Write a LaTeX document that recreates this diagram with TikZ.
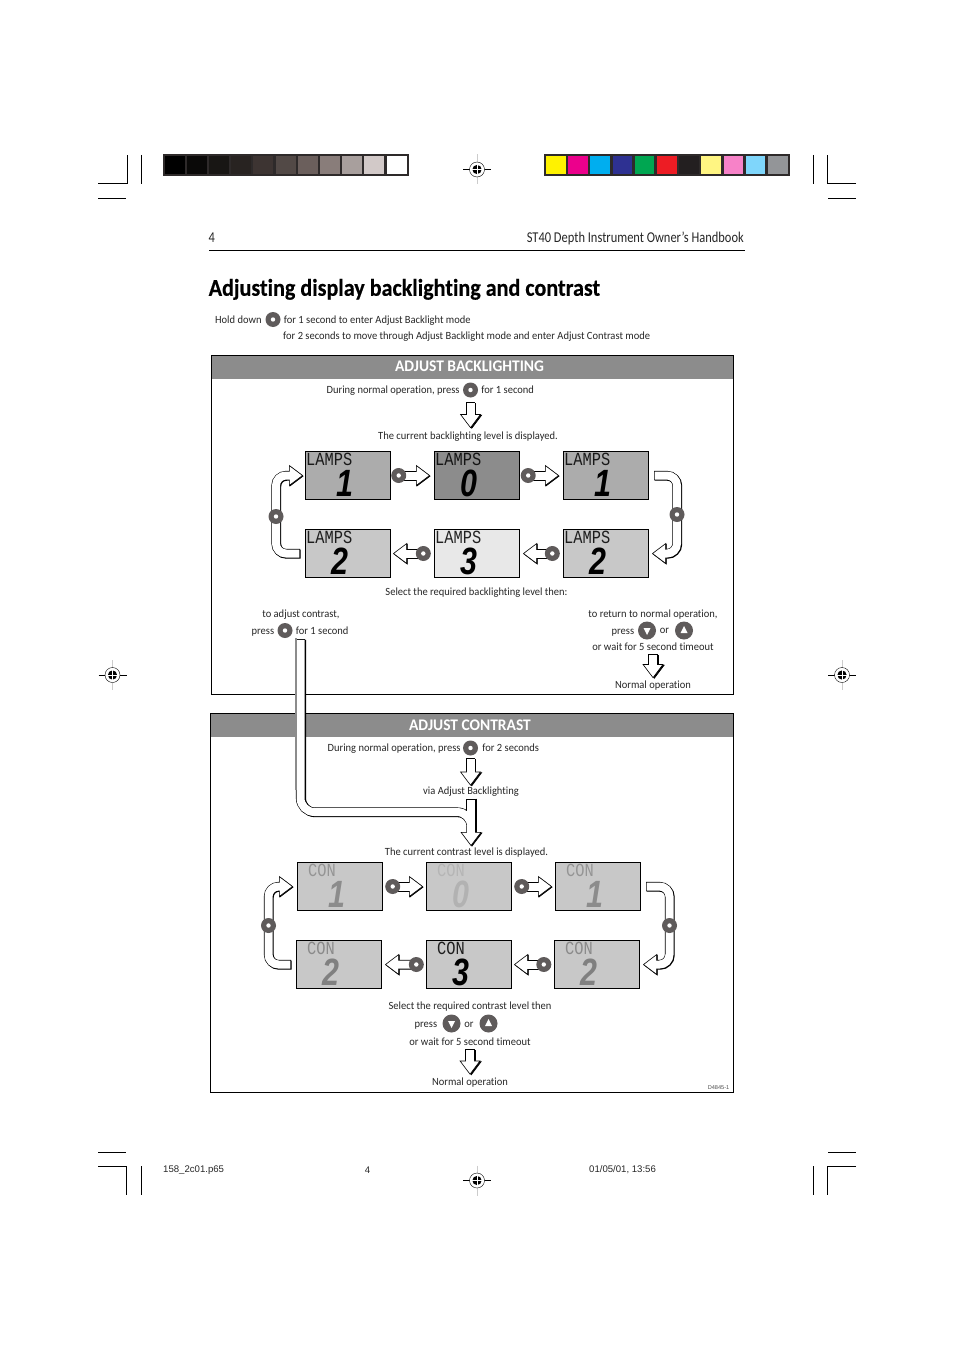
\documentclass[tikz,border=0pt]{standalone}
\usepackage{fontspec}
\setmainfont{Carlito}[FakeStretch=.955, Ligatures=NoCommon]
\newfontfamily\headfont{Carlito}[FakeStretch=.92, FakeBold=.4, Ligatures=NoCommon]
\newfontfamily\runfont{Carlito}[FakeStretch=.83, Ligatures=NoCommon]
\newfontfamily\tagfont{Liberation Mono}[FakeStretch=.83]
\newfontfamily\numfont{Liberation Sans}[FakeStretch=.8]
\newfontfamily\printfont{Liberation Sans}
\usetikzlibrary{arrows.meta, positioning, backgrounds, calc}
\definecolor{barink}{HTML}{2E2A2A}
\definecolor{bandgray}{HTML}{8C8C8C}
\definecolor{btngray}{HTML}{5F5B5B}
\definecolor{lcddark}{HTML}{8C8C8C}
\definecolor{lcdmid}{HTML}{ACACAC}
\definecolor{lcdsoft}{HTML}{C8C8C8}
\definecolor{lcdpale}{HTML}{E8E8E8}

\newcommand{\lcdface}[6]{%
  \node[lcdtag, text=#6, anchor=north west] (#1tag) at ([shift={(#3,-2pt)}]#1.north west) {#2};
  \node[lcdnum, text=#6] (#1num) at ([shift={(#5,-7.5pt)}]#1.center) {#4};
}

\begin{document}
\begin{tikzpicture}[
  x=1pt, y=-1pt,
  txt/.style = { inner sep=0pt, text height=9.4pt, text depth=1.9pt, font=\fontsize{11}{13}\selectfont, text=black!85 },
  band/.style = { inner sep=0pt, font=\fontsize{16.2}{18}\selectfont\bfseries, text=white },
  panel/.style = { draw=black, line width=.8pt },
  lcd/.style = { draw=black, line width=.8pt, minimum width=85.2pt, minimum height=48.2pt, inner sep=0pt },
  lcdtag/.style = { inner sep=0pt, text opacity=.85, font=\tagfont\fontsize{18.5}{19}\selectfont },
  lcdnum/.style = { inner sep=0pt, font=\numfont\bfseries\itshape\fontsize{38}{38}\selectfont },
  btn/.style = { circle, fill=btngray, minimum size=15pt, inner sep=0pt,
    path picture={\fill[white] (path picture bounding box.center) circle (2.2pt);} },
  btndown/.style = { circle, fill=btngray, minimum size=18pt, inner sep=0pt,
    path picture={\fill[white] ([shift={(-3.5pt,2.5pt)}]path picture bounding box.center) -- ++(7pt,0pt) -- ++(-3.5pt,-7pt) -- cycle;} },
  btnup/.style = { circle, fill=btngray, minimum size=18pt, inner sep=0pt,
    path picture={\fill[white] ([shift={(-3.5pt,-2.5pt)}]path picture bounding box.center) -- ++(7pt,0pt) -- ++(-3.5pt,7pt) -- cycle;} },
  hollow/.style = {
    preaction={draw=black, line width=9.2pt, shorten >=0pt, shorten <=0pt, transform canvas={shift={(#1,-.6pt)}},
      -{Triangle[length=14pt, width=21pt, line width=.6pt, fill=black]}},
    preaction={draw=black, line width=9.2pt, shorten >=0pt, shorten <=0pt,
      -{Triangle[length=14pt, width=21pt, line width=.6pt, color=black, fill=white]}},
    draw=white, line width=8pt, shorten >=12.8pt, shorten <=.7pt
  },
  hollow/.default=.6pt,
  regmark/.pic = {
    \draw[black!20, line width=1pt] (0,-15) -- (0,15);
    \draw[black, line width=.6pt] (-14,0) -- (14,0);
    \draw[black, line width=.4pt, fill=white] (0,0) circle (7.5pt);
    \fill[black] (0,0) circle (4.6pt);
    \draw[white, line width=.8pt] (-5,0) -- (5,0) (0,-5) -- (0,5);
  }
]
\useasboundingbox (0,0) rectangle (954,1351);

% crop marks
\draw[line width=.8pt] (98,183.5) -| (127,155) (98,198) -- (126,198) (141.5,155) -- (141.5,184);
\draw[line width=.8pt] (856,183.5) -| (827.5,155) (828,198) -- (856,198) (813.5,155) -- (813.5,184);
\draw[line width=.8pt] (98,1152) -- (126,1152) (98,1166) -| (126.5,1195) (141.5,1166) -- (141.5,1195);
\draw[line width=.8pt] (828,1152) -- (856,1152) (856,1166) -| (827.5,1195) (813.5,1166) -- (813.5,1195);

\pic at (477,169.5) {regmark};
\pic at (477,1180.5) {regmark};
\pic at (112.5,675) {regmark};
\pic at (842,675) {regmark};

% colour bars
\fill[barink] (163,154) rectangle (409,176);
\foreach \shade [count=\i from 0] in {000000,0A0908,181614,282321,3D3432,524946,6B5F5C,897D7A,A89F9D,D2C9C8,FFFFFF} {
  \definecolor{swatch}{HTML}{\shade}
  \fill[swatch] (164.5+22.2*\i,156) rectangle (184.5+22.2*\i,174.5);
}
\fill[barink] (544,154) rectangle (790,176);
\foreach \shade [count=\i from 0] in {FFF200,EC008C,00AEEF,2E3192,00A651,ED1C24,231F20,FFF582,F782C8,7FD6FB,939598} {
  \definecolor{swatch}{HTML}{\shade}
  \fill[swatch] (546+22.2*\i,156) rectangle (565.5+22.2*\i,174.5);
}

% page head
\node[txt, font=\runfont\fontsize{15}{17}\selectfont, anchor=west] (pagenum) at (208.5,238.5) {4};
\node[txt, font=\runfont\fontsize{15}{17}\selectfont, anchor=east] (booktitle) at (744,238.5) {ST40 Depth Instrument Owner’s Handbook};
\draw[line width=.7pt] (209,250) -- (745,250);
\node[txt, font=\headfont\fontsize{24}{26}\selectfont\bfseries, text=black, anchor=west] (heading) at (208.5,292) {Adjusting display backlighting and contrast};

\node[btn] (btnHold) at (273,319.5) {};
\node[txt, left=3.5pt of btnHold] (holdText) {Hold down};
\node[txt, right=3pt of btnHold] (holdOne) {for 1 second to enter Adjust Backlight mode};
\node[txt, anchor=west] (holdTwo) at (283,335.5) {for 2 seconds to move through Adjust Backlight mode and enter  Adjust Contrast mode};

% backlighting panel
\fill[bandgray] (212,356) rectangle (733,379);
\draw[panel] (211.5,355.5) rectangle (733.5,694.5);
\node[band] (bandA) at (469.5,366.5) {ADJUST BACKLIGHTING};

\node[btn] (btnA) at (470.5,390) {};
\node[txt, left=3pt of btnA] (duringA) {During normal operation, press};
\node[txt, right=3pt of btnA] (secA) {for 1 second};
\node[txt] (currentA) at (468,436) {The current backlighting level is displayed.};

\node[lcd, fill=lcdmid] (lampsA) at (348,475.5) {};
\node[lcd, fill=lcddark, right=43pt of lampsA] (lampsB) {};
\node[lcd, fill=lcdmid, right=43pt of lampsB] (lampsC) {};
\node[lcd, fill=lcdsoft, below=29pt of lampsA] (lampsD) {};
\node[lcd, fill=lcdpale, below=29pt of lampsB] (lampsE) {};
\node[lcd, fill=lcdsoft, below=29pt of lampsC] (lampsF) {};
\lcdface{lampsA}{LAMPS}{1pt}{1}{-3pt}{black}
\lcdface{lampsB}{LAMPS}{1pt}{0}{-8pt}{black}
\lcdface{lampsC}{LAMPS}{1pt}{1}{-3pt}{black}
\lcdface{lampsD}{LAMPS}{1pt}{2}{-8pt}{black}
\lcdface{lampsE}{LAMPS}{1pt}{3}{-8pt}{black}
\lcdface{lampsF}{LAMPS}{1pt}{2}{-8pt}{black}

\node[btn, right=0pt of lampsA] (btnAB) {};
\node[btn, right=.5pt of lampsB] (btnBC) {};
\node[btn, left=3pt of lampsF] (btnFE) {};
\node[btn, left=3pt of lampsE] (btnED) {};
\node[btn] (btnDA) at (276,516.5) {};
\node[btn] (btnCF) at (677,514.5) {};

\node[txt] (selectA) at (476.5,591.5) {Select the required backlighting level then:};
\node[txt] (toContrast) at (301,613.5) {to adjust contrast,};
\node[btn] (btnPress) at (285,630.5) {};
\node[txt, left=3pt of btnPress] (pressL) {press};
\node[txt, right=3pt of btnPress] (secL) {for 1 second};

\node[txt] (toReturn) at (653,613.5) {to return to normal operation,};
\node[btndown] (btnDownA) at (647,630.5) {};
\node[txt] (orA) at (664.5,630) {or};
\node[btnup] (btnUpA) at (684,630.5) {};
\node[txt, left=3.5pt of btnDownA] (pressR) {press};
\node[txt] (waitA) at (653,647) {or wait for 5 second timeout};
\node[txt] (normalA) at (653,685) {Normal operation};

% contrast panel
\fill[bandgray] (211,714) rectangle (733,737);
\draw[panel] (210.5,713.5) rectangle (733,1092.5);
\node[band] (bandB) at (470,725.5) {ADJUST CONTRAST};

\node[btn] (btnB) at (470.5,748) {};
\node[txt, left=2pt of btnB] (duringB) {During normal operation, press};
\node[txt, right=4pt of btnB] (secB) {for 2 seconds};
\node[txt] (viaB) at (471,790.5) {via Adjust Backlighting};
\node[txt] (currentB) at (466.5,851.5) {The current contrast level is displayed.};

\node[lcd, fill=lcdsoft] (conA) at (340,886.5) {};
\node[lcd, fill=lcdsoft, right=43pt of conA] (conB) {};
\node[lcd, fill=lcdsoft, right=43pt of conB] (conC) {};
\node[lcd, fill=lcdsoft] (conD) at (339,964.5) {};
\node[lcd, fill=lcdsoft, below=29pt of conB] (conE) {};
\node[lcd, fill=lcdsoft, below=29pt of conC, xshift=-1pt] (conF) {};
\lcdface{conA}{CON}{11pt}{1}{-3pt}{black!45}
\lcdface{conB}{CON}{11pt}{0}{-8pt}{black!30}
\lcdface{conC}{CON}{11pt}{1}{-3pt}{black!45}
\lcdface{conD}{CON}{11pt}{2}{-8pt}{black!50}
\lcdface{conE}{CON}{11pt}{3}{-8pt}{black}
\lcdface{conF}{CON}{11pt}{2}{-8pt}{black!50}

\node[btn, right=2pt of conA] (btnCAB) {};
\node[btn, right=2pt of conB] (btnCBC) {};
\node[btn, left=2.5pt of conF] (btnCFE) {};
\node[btn, left=2pt of conE] (btnCED) {};
\node[btn] (btnCDA) at (268.5,925.5) {};
\node[btn] (btnCCF) at (669.5,925.5) {};

\node[txt] (selectB) at (470,1005.5) {Select the required contrast level then};
\node[btndown] (btnDownB) at (451.5,1023.5) {};
\node[txt, left=5pt of btnDownB] (pressB) {press};
\node[txt] (orB) at (469,1023.5) {or};
\node[btnup] (btnUpB) at (488.5,1023.5) {};
\node[txt] (waitB) at (470,1041.5) {or wait for 5 second timeout};
\node[txt] (normalB) at (470,1081.5) {Normal operation};
\node[inner sep=0pt, font=\printfont\fontsize{5.6}{6}\selectfont, text=black!70] (drawingno) at (718.5,1088) {D4845-1};

% slug line
\node[inner sep=0pt, font=\printfont\fontsize{9.6}{11}\selectfont, text=black!85, anchor=west] (slugfile) at (163,1170) {158\_2c01.p65};
\node[inner sep=0pt, font=\printfont\fontsize{9.6}{11}\selectfont, text=black!85] (slugpage) at (367.5,1170) {4};
\node[inner sep=0pt, font=\printfont\fontsize{9.6}{11}\selectfont, text=black!85, anchor=west] (slugdate) at (589,1170) {01/05/01, 13:56};

% hollow arrows sit under the buttons
\begin{scope}[on background layer]
\draw[hollow=1.3pt] ([yshift=-4.5pt]btnA.south) -- ([yshift=2pt]btnA.south |- currentA.north);
\draw[hollow=1.3pt] ([yshift=-1.5pt]waitA.south) -- ([yshift=1pt]waitA.south |- normalA.north);
\draw[hollow] (btnAB.center) -- ([xshift=-4pt]lampsB.west);
\draw[hollow] (btnBC.center) -- ([xshift=-4pt]lampsC.west);
\draw[hollow] (btnFE.center) -- ([xshift=3pt]lampsE.east);
\draw[hollow] (btnED.center) -- ([xshift=2pt]lampsD.east);
\draw[hollow, rounded corners=10pt] ([xshift=-5pt]lampsD.west) -| (btnDA.center) |- ([xshift=-2pt]lampsA.west);
\draw[hollow, rounded corners=10pt] ([xshift=5pt]lampsC.east) -| (btnCF.center) |- ([xshift=3pt]lampsF.east);

\draw[hollow=1.3pt] ([yshift=-2.5pt]btnB.south) -- ([yshift=-1pt]viaB.north -| btnB.south);
\draw[hollow=1.3pt] ([yshift=-2pt]waitB.south) -- ([yshift=1pt]waitB.south |- normalB.north);
\draw[hollow] (btnCAB.center) -- ([xshift=-3pt]conB.west);
\draw[hollow] (btnCBC.center) -- ([xshift=-3pt]conC.west);
\draw[hollow] (btnCFE.center) -- ([xshift=2pt]conE.east);
\draw[hollow] (btnCED.center) -- ([xshift=3pt]conD.east);
\draw[hollow, rounded corners=10pt] ([xshift=-5pt]conD.west) -| (btnCDA.center) |- ([xshift=-4pt]conA.west);
\draw[hollow, rounded corners=10pt] ([xshift=5pt]conC.east) -| (btnCCF.center) |- ([xshift=3pt]conF.east);
\end{scope}

% long arrow from the first panel into the second
\draw[hollow=1pt, rounded corners=14pt] ([yshift=-1pt]btnPress.south -| 300.5,0) |- (471,812) -- (471,846);
\draw[draw=white, line width=8pt] (471,799.5) -- (471,826);
\draw[line width=.7pt] (466.6,810) -- (466.6,799) -- (475.8,799);
\draw[line width=1.6pt] (476,798.6) -- (476,832);
\draw[black!45, line width=1.4pt] (296,638.4) -- (296,790);

\end{tikzpicture}
\end{document}
